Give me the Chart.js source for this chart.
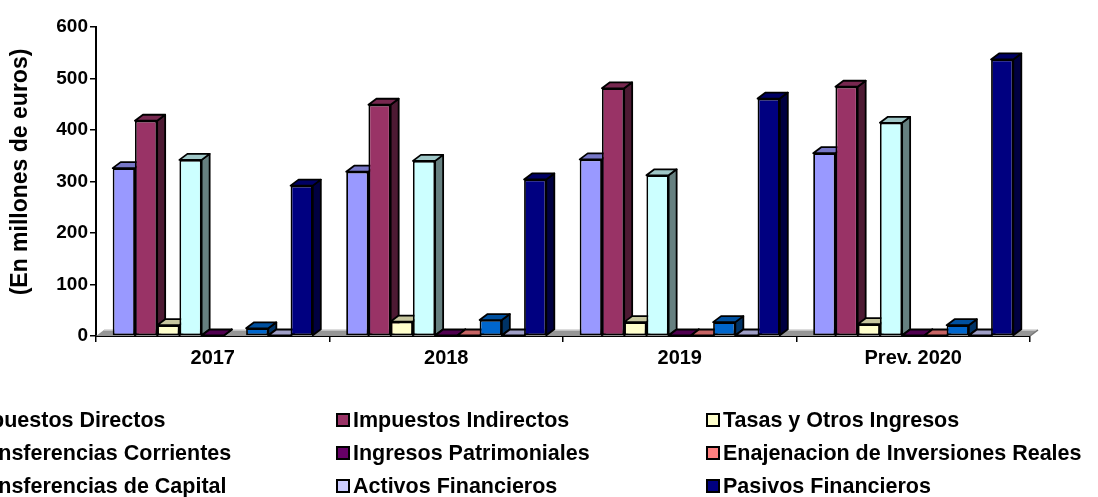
<!DOCTYPE html>
<html><head><meta charset="utf-8">
<script src="https://cdn.jsdelivr.net/npm/chart.js@4/dist/chart.umd.min.js"></script>
<style>
html,body{margin:0;padding:0;background:#fff;overflow:hidden}
#wrap{position:relative;width:1098px;height:497px;overflow:hidden}
#c{position:absolute;left:0;top:0}
.leg{position:absolute;font:bold 21.5px "Liberation Sans",Arial,sans-serif;color:#000;white-space:nowrap;line-height:1}
.box{position:absolute;width:10px;height:10px;border:2px solid #000}
</style></head>
<body>
<div id="wrap"><canvas id="c" width="1098" height="497"></canvas></div>
<script>
// ---- data ----
const categories = ['2017', '2018', '2019', 'Prev. 2020'];
const seriesNames = ['Impuestos Directos', 'Impuestos Indirectos', 'Tasas y Otros Ingresos',
  'Transferencias Corrientes', 'Ingresos Patrimoniales', 'Enajenacion de Inversiones Reales',
  'Transferencias de Capital', 'Activos Financieros', 'Pasivos Financieros'];
const seriesColors = ['#9999FF', '#993366', '#FFFFCC', '#CCFFFF', '#660066', '#FF8080', '#0066CC', '#CCCCFF', '#000080'];
const impuestosDirectos = [326, 319, 343, 355];
const impuestosIndirectos = [418, 449, 481, 484];
const tasasOtrosIngresos = [21, 28, 27, 23];
const transferenciasCorrientes = [342, 340, 312, 414];
const ingresosPatrimoniales = [1, 1, 1, 1];
const enajenacionInversiones = [null, 1, 1, 1];
const transferenciasCapital = [15, 31, 27, 21];
const activosFinancieros = [1, 1, 1, 1];
const pasivosFinancieros = [292, 304, 461, 537];
const yTickValues = [0, 100, 200, 300, 400, 500, 600];
const yTitle = '(En millones de euros)';
const seriesValues = [impuestosDirectos, impuestosIndirectos, tasasOtrosIngresos, transferenciasCorrientes,
  ingresosPatrimoniales, enajenacionInversiones, transferenciasCapital, activosFinancieros, pasivosFinancieros];

const FONT = '"Liberation Sans", Arial, sans-serif';
const DX = 8, DY = 6;

function shade(hex, f) {
  const n = parseInt(hex.slice(1), 16);
  const r = Math.round(((n >> 16) & 255) * f), g = Math.round(((n >> 8) & 255) * f), b = Math.round((n & 255) * f);
  return 'rgb(' + r + ',' + g + ',' + b + ')';
}

const bar3d = {
  id: 'bar3d',
  beforeDatasetsDraw(chart) {
    const ctx = chart.ctx, a = chart.chartArea, ys = chart.scales.y;
    const y0 = ys.getPixelForValue(0);
    ctx.save();
    // floor
    ctx.beginPath();
    ctx.moveTo(a.left, y0); ctx.lineTo(a.right, y0); ctx.lineTo(a.right + DX, y0 - DY); ctx.lineTo(a.left + DX, y0 - DY);
    ctx.closePath();
    ctx.fillStyle = '#969696'; ctx.fill();
    ctx.strokeStyle = '#d0d0d0'; ctx.lineWidth = 1.5;
    ctx.beginPath(); ctx.moveTo(a.left + DX, y0 - DY); ctx.lineTo(a.right + DX, y0 - DY); ctx.stroke();
    ctx.strokeStyle = '#777'; ctx.beginPath(); ctx.moveTo(a.right + DX, y0 - DY); ctx.lineTo(a.right, y0); ctx.stroke();
    // bars
    const bars = [];
    chart.data.datasets.forEach((ds, di) => {
      const meta = chart.getDatasetMeta(di);
      meta.data.forEach((el, i) => {
        if (ds.data[i] == null) return;
        const p = el.getProps(['x', 'y', 'base', 'width'], true);
        bars.push({ L: p.x - p.width / 2, R: p.x + p.width / 2, y: p.y, base: p.base, color: ds.backgroundColor });
      });
    });
    ctx.lineWidth = 1.8; ctx.strokeStyle = '#000'; ctx.lineJoin = 'round';
    bars.forEach(b => {
      ctx.beginPath();
      ctx.moveTo(b.R, b.base); ctx.lineTo(b.R + DX, b.base - DY); ctx.lineTo(b.R + DX, b.y - DY); ctx.lineTo(b.R, b.y);
      ctx.closePath();
      ctx.fillStyle = shade(b.color, 0.5); ctx.fill(); ctx.stroke();
    });
    bars.forEach(b => {
      ctx.beginPath();
      ctx.moveTo(b.L, b.y); ctx.lineTo(b.R, b.y); ctx.lineTo(b.R + DX, b.y - DY); ctx.lineTo(b.L + DX, b.y - DY);
      ctx.closePath();
      ctx.fillStyle = shade(b.color, 0.78); ctx.fill(); ctx.stroke();
    });
    ctx.restore();
  },
  afterDraw(chart) {
    const ctx = chart.ctx;
    ctx.save();
    ctx.translate(21, 172);
    ctx.rotate(-Math.PI / 2);
    ctx.font = 'bold 23px ' + FONT;
    ctx.fillStyle = '#000';
    ctx.textAlign = 'center';
    ctx.textBaseline = 'middle';
    ctx.fillText(yTitle, 0, 0);
    ctx.restore();
  }
};

const datasets = seriesNames.map((name, i) => ({
  label: name,
  data: seriesValues[i],
  backgroundColor: seriesColors[i],
  borderColor: '#000',
  borderWidth: 1.8,
  borderSkipped: false,
  categoryPercentage: 0.857,
  barPercentage: 1.0
}));

new Chart(document.getElementById('c'), {
  type: 'bar',
  data: { labels: categories, datasets: datasets },
  plugins: [bar3d],
  options: {
    responsive: false,
    animation: false,
    devicePixelRatio: 1,
    layout: { padding: { top: 27, right: 68, bottom: 121, left: 0 } },
    plugins: { legend: { display: false }, tooltip: { enabled: false } },
    scales: {
      x: {
        type: 'category',
        offset: true,
        grid: { display: true, drawOnChartArea: false, drawTicks: true, tickLength: 6, color: '#000', lineWidth: 1.5, offset: true },
        border: { display: true, color: '#000', width: 2 },
        ticks: { color: '#000', font: { family: FONT, size: 20, weight: 'bold' }, padding: 4, maxRotation: 0, autoSkip: false },
        afterFit: s => { s.height = 40; }
      },
      y: {
        min: 0, max: 600,
        afterBuildTicks: s => { s.ticks = yTickValues.map(v => ({ value: v })); },
        grid: { display: true, drawOnChartArea: false, drawTicks: true, tickLength: 6, color: '#000', lineWidth: 1.5 },
        border: { display: true, color: '#000', width: 2 },
        ticks: { color: '#000', font: { family: FONT, size: 19, weight: 'bold' }, padding: 2 },
        title: { display: false },
        afterFit: s => { s.width = 96; }
      }
    }
  }
});

// legend (HTML, 3 columns)
const legCols = [-34, 353, 723];
const legRows = [420, 453, 486];
const wrap = document.getElementById('wrap');
seriesNames.forEach((name, i) => {
  const col = i % 3, row = Math.floor(i / 3);
  const x = legCols[col], cy = legRows[row];
  const box = document.createElement('div');
  box.className = 'box';
  box.style.left = (x - 17) + 'px';
  box.style.top = (cy - 7) + 'px';
  box.style.background = seriesColors[i];
  wrap.appendChild(box);
  const t = document.createElement('div');
  t.className = 'leg';
  t.style.left = x + 'px';
  t.style.top = (cy - 10.5) + 'px';
  t.textContent = name;
  wrap.appendChild(t);
});
</script>
</body></html>
